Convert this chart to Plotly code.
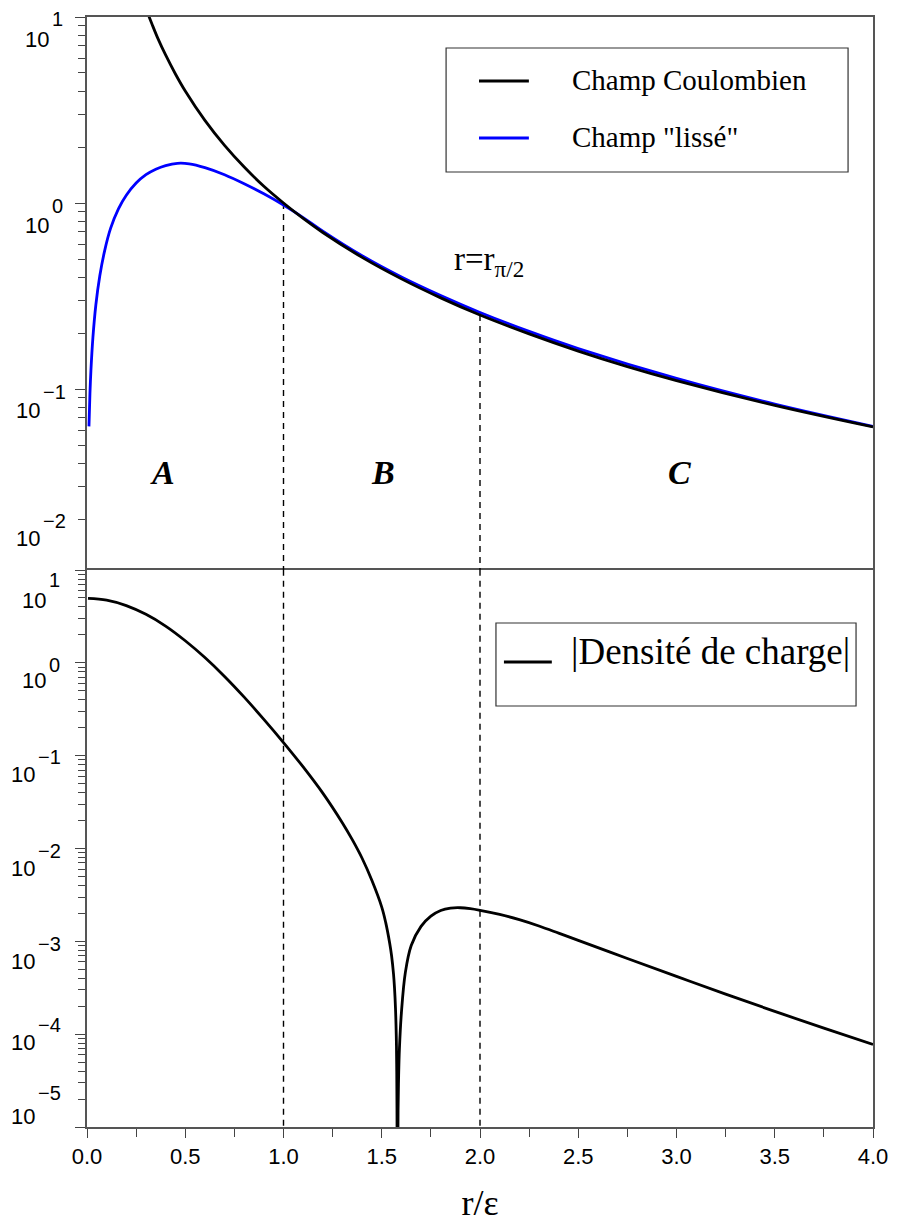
import math
import plotly.graph_objects as go

# ---------------- data ----------------
r_coulomb = [0.31, 0.33, 0.36, 0.40, 0.45, 0.50, 0.60, 0.70, 0.80, 0.90, 1.00, 1.10,
             1.20, 1.40, 1.60, 1.80, 2.00, 2.25, 2.50, 2.75, 3.00, 3.50, 4.00]
E_coulomb = [10.4, 9.2, 7.7, 6.25, 4.94, 4.0, 2.78, 2.04, 1.56, 1.23, 1.0, 0.826,
             0.694, 0.510, 0.391, 0.309, 0.25, 0.198, 0.16, 0.132, 0.111, 0.0816, 0.0625]

r_smooth = [0.01, 0.015, 0.02, 0.03, 0.045, 0.065, 0.09, 0.12, 0.16, 0.20, 0.25, 0.30,
            0.35, 0.40, 0.46, 0.52, 0.60, 0.70, 0.80, 0.90, 1.00, 1.10, 1.20, 1.40, 1.60,
            1.80, 2.00, 2.25, 2.50, 3.00, 3.50, 4.00]
E_smooth = [0.063, 0.095, 0.126, 0.189, 0.283, 0.405, 0.555, 0.73, 0.93, 1.10, 1.28, 1.42,
            1.52, 1.59, 1.635, 1.625, 1.55, 1.42, 1.27, 1.12, 0.975, 0.835, 0.705, 0.52,
            0.40, 0.318, 0.258, 0.204, 0.165, 0.114, 0.083, 0.063]

r_density = [0.005, 0.1, 0.2, 0.3, 0.4, 0.5, 0.6, 0.7, 0.8, 0.9, 1.0, 1.1, 1.2, 1.3,
             1.35, 1.4, 1.45, 1.5, 1.52, 1.54, 1.55, 1.56, 1.565, 1.57, 1.574, 1.576,
             1.5775, 1.579, 1.583, 1.586, 1.59, 1.60, 1.62, 1.65, 1.70, 1.75, 1.80, 1.85,
             1.90, 1.95, 2.0, 2.1, 2.2, 2.3, 2.4, 2.5, 2.75, 3.0, 3.25, 3.5, 3.75, 4.0]
rho_density = [4.95, 4.74, 4.14, 3.33, 2.49, 1.73, 1.14, 0.714, 0.427, 0.246, 0.1385,
               0.0757, 0.0395, 0.01884, 0.01245, 7.85e-3, 4.52e-3, 2.34e-3, 1.60e-3,
               9.66e-4, 7.0e-4, 4.42e-4, 3.13e-4, 1.88e-4, 9.4e-5, 4.7e-5, 1.58e-5, 1e-7,
               1.5e-5, 3.6e-5, 7e-5, 1.7e-4, 4.6e-4, 9.0e-4, 1.45e-3, 1.87e-3, 2.15e-3,
               2.28e-3, 2.3e-3, 2.25e-3, 2.16e-3, 1.95e-3, 1.71e-3, 1.462e-3, 1.225e-3,
               1.023e-3, 6.53e-4, 4.19e-4, 2.70e-4, 1.76e-4, 1.16e-4, 7.76e-5]

x_tickvals = [0.0, 0.5, 1.0, 1.5, 2.0, 2.5, 3.0, 3.5, 4.0]
x_ticktext = ["0.0", "0.5", "1.0", "1.5", "2.0", "2.5", "3.0", "3.5", "4.0"]

top_decades = [1, 0, -1, -2]
bottom_decades = [1, 0, -1, -2, -3, -4, -5]

boundary_r = [1.0, 2.0]
boundary_E = [1.0, 0.25]

region_names = ["A", "B", "C"]
region_r = [0.386, 1.508, 3.015]
region_E = [0.0356, 0.0356, 0.0356]

legend_top = ["Champ Coulombien", "Champ \"lissé\""]
legend_bottom = ["|Densité de charge|"]

# ---------------- geometry helpers ----------------
W, H = 900, 1228
PL, PR, PT, PB = 87, 875, 17, 1127          # plot area in window pixels
L, R, T, B = PL, W - PR, PT, H - PB
PW, PH = PR - PL, PB - PT


def px(x):
    return (x - PL) / PW


def py(y):
    return (PB - y) / PH


split = py(570)

AXC = "#555555"
SANS = "Liberation Sans, Arial, sans-serif"
SERIF = "Liberation Serif, Times New Roman, serif"

fig = go.Figure()

# dashed boundaries
for rb, eb in zip(boundary_r, boundary_E):
    fig.add_trace(go.Scatter(x=[rb, rb], y=[eb, 1e-4], mode="lines", xaxis="x2", yaxis="y2",
                             line=dict(color="black", width=1.4, dash="6px,5px"),
                             showlegend=False, hoverinfo="skip"))
    fig.add_trace(go.Scatter(x=[rb, rb], y=[1e-7, 1e2], mode="lines", xaxis="x", yaxis="y",
                             line=dict(color="black", width=1.4, dash="6px,5px"),
                             showlegend=False, hoverinfo="skip"))

fig.add_trace(go.Scatter(x=r_smooth, y=E_smooth, mode="lines", xaxis="x2", yaxis="y2",
                         line=dict(color="#0000ff", width=2.8, shape="spline", smoothing=1.0),
                         name=legend_top[1], showlegend=False))
fig.add_trace(go.Scatter(x=r_coulomb, y=E_coulomb, mode="lines", xaxis="x2", yaxis="y2",
                         line=dict(color="black", width=2.8, shape="spline", smoothing=1.0),
                         name=legend_top[0], showlegend=False))
fig.add_trace(go.Scatter(x=r_density, y=rho_density, mode="lines", xaxis="x", yaxis="y",
                         line=dict(color="black", width=2.8, shape="spline", smoothing=1.0),
                         name=legend_bottom[0], showlegend=False))

annotations = []
shapes = []


def exp_txt(d):
    return str(d).replace("-", "\u2212")


def add_ylabel(yref, y, d, base_right, exp_shift, base_shift):
    annotations.append(dict(xref="paper", yref=yref, x=0, y=y, text="10",
                            xanchor="right", yanchor="middle", xshift=base_right - PL,
                            yshift=base_shift, showarrow=False, borderpad=0,
                            font=dict(family=SANS, size=22, color="black")))
    annotations.append(dict(xref="paper", yref=yref, x=0, y=y, text=exp_txt(d),
                            xanchor="left", yanchor="middle", xshift=base_right + 1 - PL,
                            yshift=exp_shift, showarrow=False, borderpad=0,
                            font=dict(family=SANS, size=20, color="black")))


# top panel labels
for d in top_decades:
    if d == -2:
        add_ylabel("y2 domain", 0, d, 41, 49, 32)
    elif d < 0:
        add_ylabel("y2", d, d, 41, -3, -21)
    else:
        add_ylabel("y2", d, d, 50, -2 if d == 1 else -3, -22)

# bottom panel labels
bot_shift = {1: (-10, -30), 0: (-2, -18), -1: (-1, -19), -2: (-2, -20), -3: (-3, -20),
             -4: (9, -8), -5: (34, 11)}
for d in bottom_decades:
    es, bs = bot_shift[d]
    add_ylabel("y", d, d, 36 if d < 0 else 47, es, bs)

# region letters
for name, rr, ee in zip(region_names, region_r, region_E):
    annotations.append(dict(xref="x2", yref="y2", x=rr, y=math.log10(ee),
                            text="<b><i>%s</i></b>" % name, showarrow=False,
                            font=dict(family=SERIF, size=34, color="black")))

annotations.append(dict(xref="x2", yref="y2", x=2.046, y=-0.3145,
                        text="r=r<sub>\u03c0/2</sub>", showarrow=False,
                        font=dict(family=SERIF, size=33, color="black")))

# legends
shapes.append(dict(type="rect", xref="paper", yref="paper", x0=px(447), x1=px(850),
                   y0=py(172), y1=py(48), line=dict(color="#333", width=1.2),
                   fillcolor="white", layer="below"))
for txt, col, yy in zip(legend_top, ["black", "#0000ff"], [81, 138]):
    shapes.append(dict(type="line", xref="paper", yref="paper", x0=px(480), x1=px(530),
                       y0=py(yy), y1=py(yy), line=dict(color=col, width=2.8)))
    annotations.append(dict(xref="paper", yref="paper", x=px(571), y=py(yy - 1), text=txt,
                            xanchor="left", yanchor="middle", showarrow=False,
                            font=dict(family=SERIF, size=29, color="black")))

shapes.append(dict(type="rect", xref="paper", yref="paper", x0=px(497), x1=px(858),
                   y0=py(706), y1=py(623), line=dict(color="#333", width=1.2),
                   fillcolor="white", layer="below"))
shapes.append(dict(type="line", xref="paper", yref="paper", x0=px(505), x1=px(553),
                   y0=py(662), y1=py(662), line=dict(color="black", width=2.8)))
annotations.append(dict(xref="paper", yref="paper", x=px(570), y=py(652), text=legend_bottom[0],
                        xanchor="left", yanchor="middle", showarrow=False,
                        font=dict(family=SERIF, size=37, color="black")))

common = dict(showgrid=False, zeroline=False, linecolor=AXC, linewidth=1.5, showline=True)

fig.update_layout(
    width=W, height=H,
    margin=dict(l=L, r=R, t=T, b=B, pad=0),
    paper_bgcolor="white", plot_bgcolor="white",
    showlegend=False,
    xaxis=dict(domain=[0, 1], anchor="y", range=[0, 4], tickvals=x_tickvals,
               ticktext=x_ticktext, ticks="outside", ticklen=9, tickwidth=1.4, tickcolor="#444",
               minor=dict(ticks="outside", dtick=0.25, ticklen=8, tickwidth=1.4, tickcolor="#444"),
               tickfont=dict(family=SANS, size=22, color="black"), mirror=True,
               title=dict(text="r/\u03b5", font=dict(family=SERIF, size=36, color="black"),
                          standoff=22),
               **common),
    xaxis2=dict(domain=[0, 1], anchor="y2", range=[0, 4], matches="x", side="top",
                showticklabels=False, ticks="", mirror=False, **common),
    yaxis=dict(domain=[0, split], anchor="x", type="log", range=[-5, 1], dtick=1,
               ticks="outside", ticklen=10, tickwidth=1.4, tickcolor="#444", mirror=True,
               minor=dict(ticks="outside", dtick="D1", ticklen=7, tickwidth=1.2, tickcolor="#444"),
               showticklabels=False, **common),
    yaxis2=dict(domain=[split, 1], anchor="x2", type="log", range=[-1.973, 1], dtick=1,
                ticks="outside", ticklen=10, tickwidth=1.4, tickcolor="#444", mirror=True,
                minor=dict(ticks="outside", dtick="D1", ticklen=7, tickwidth=1.2, tickcolor="#444"),
                showticklabels=False, **common),
    annotations=annotations,
    shapes=shapes,
)

# the page is exactly the window size: drop the default body margin
fig.write_html(
    "out.html",
    config={"displayModeBar": False},
    post_script="document.body.style.margin='0px';"
                "document.documentElement.style.overflow='hidden';"
                "document.body.style.overflow='hidden';",
)
